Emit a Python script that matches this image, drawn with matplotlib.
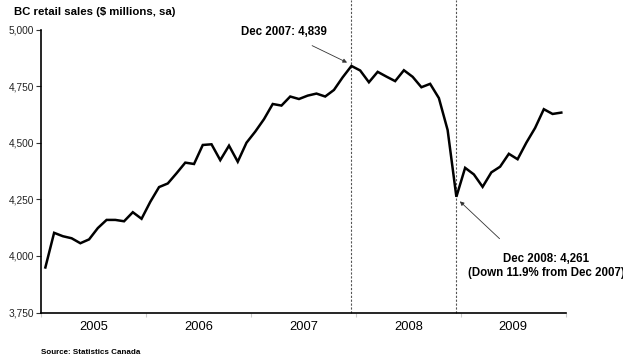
import matplotlib.pyplot as plt
import numpy as np

plt.rcParams['font.family'] = ['Liberation Sans', 'DejaVu Sans']

# monthly BC retail sales, Jan 2005 - Dec 2009 ($ millions, seasonally adjusted)
sales = [3949, 4102, 4087, 4078, 4056, 4073, 4123, 4159, 4159, 4153, 4193, 4164,
         4239, 4304, 4320, 4365, 4412, 4406, 4490, 4493, 4423, 4487, 4416, 4500,
         4549, 4604, 4671, 4664, 4704, 4693, 4708, 4717, 4704, 4733, 4789, 4839,
         4819, 4767, 4813, 4792, 4772, 4820, 4791, 4745, 4760, 4697, 4556, 4261,
         4389, 4360, 4305, 4369, 4394, 4451, 4427, 4500, 4565, 4648, 4627, 4633]
years = ['2005', '2006', '2007', '2008', '2009']
yticks = [3750, 4000, 4250, 4500, 4750, 5000]

peak_idx = 35    # Dec 2007
trough_idx = 47  # Dec 2008

fig = plt.figure(figsize=(6.23, 3.62), dpi=100)
ax = fig.add_axes([0.0658, 0.1367, 0.8422, 0.7818])

months = np.arange(len(sales))
ax.plot(months, sales, color='black', lw=1.8, solid_joinstyle='miter')

# recession markers
for i in (peak_idx, trough_idx):
    ax.axvline(i, ymin=0, ymax=1.105, color='#555555', ls=(0, (2, 1.5)),
               lw=0.8, clip_on=False, zorder=1)

ax.set_xlim(-0.5, len(sales) - 0.5)
ax.set_ylim(3750, 5000)

ax.set_yticks(yticks)
ax.set_yticklabels([f'{v:,}' for v in yticks], fontsize=7.3, color='#222222')
ax.tick_params(axis='y', length=3.5, width=0.8, color='#333333', pad=1.5)

# year labels centred in each year, ticks at boundaries
ax.set_xticks([12 * k + 5.5 for k in range(len(years))])
ax.set_xticklabels(years, fontsize=9.3)
ax.tick_params(axis='x', which='major', length=0, pad=6)
ax.set_xticks([12 * k - 0.5 for k in range(len(years) + 1)], minor=True)
ax.tick_params(axis='x', which='minor', length=3, width=0.8, color='#cccccc')

for s in ('top', 'right'):
    ax.spines[s].set_visible(False)
for s in ('left', 'bottom'):
    ax.spines[s].set_linewidth(1.2)

ax.annotate(f'Dec 2007: {sales[peak_idx]:,}', xy=(peak_idx - 0.5, sales[peak_idx] + 15),
            xytext=(284, 362 - 32), textcoords='figure pixels',
            ha='center', va='center', fontsize=8.3, fontweight='bold',
            arrowprops=dict(arrowstyle='-|>', color='#333333', lw=0.6,
                            shrinkA=8, shrinkB=0, mutation_scale=6))

drop = (sales[trough_idx] / sales[peak_idx] - 1) * 100
ax.annotate(f'Dec 2008: {sales[trough_idx]:,}\n(Down {abs(drop):.1f}% from Dec 2007)',
            xy=(trough_idx + 0.4, sales[trough_idx] - 20),
            xytext=(546, 362 - 266), textcoords='figure pixels',
            ha='center', va='center', fontsize=8.3, fontweight='bold', linespacing=1.25,
            annotation_clip=False,
            arrowprops=dict(arrowstyle='-|>', color='#333333', lw=0.6,
                            shrinkA=12, shrinkB=0, mutation_scale=6,
                            relpos=(0.3, 1.0)))

fig.text(14 / 623, 1 - 12 / 362, 'BC retail sales ($ millions, sa)',
         fontsize=8.2, fontweight='bold', va='center', ha='left')
fig.text(41 / 623, 1 - 352 / 362, 'Source: Statistics Canada',
         fontsize=5.8, fontweight='bold', va='center', ha='left')

fig.savefig('out.png', dpi=100)
